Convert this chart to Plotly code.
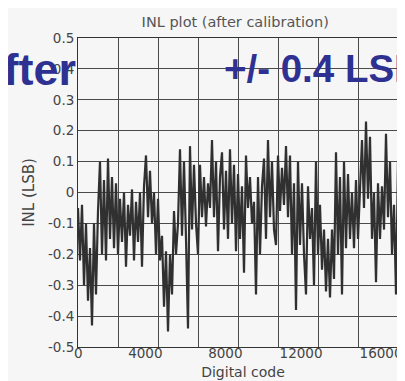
import numpy as np
import plotly.graph_objects as go

# INL values (LSB), one every 100 codes
inl_values = [
    -0.05, -0.22, -0.04, -0.30, -0.10, -0.35, -0.18, -0.43, -0.10, -0.33,
    -0.06, 0.10, -0.20, 0.04, -0.22, 0.11, -0.15, 0.05, -0.18, 0.03,
    -0.20, -0.02, -0.16, 0.00, -0.24, -0.04, -0.14, 0.01, -0.22, -0.03,
    -0.16, 0.00, -0.24, 0.02, 0.12, -0.08, 0.07, -0.10, 0.00, -0.20,
    -0.02, -0.22, -0.14, -0.37, -0.19, -0.45, -0.20, -0.33, -0.06, -0.20,
    -0.10, 0.14, -0.14, 0.10, -0.15, -0.44, 0.15, -0.12, 0.09, -0.10,
    -0.20, 0.09, -0.08, 0.05, -0.11, 0.03, -0.05, 0.17, -0.08, 0.10,
    -0.19, 0.05, 0.13, -0.12, 0.07, -0.15, 0.14, -0.10, 0.09, -0.19,
    0.06, -0.15, 0.02, -0.26, 0.12, -0.05, 0.05, -0.10, -0.03, -0.33,
    0.05, -0.20, 0.02, 0.11, -0.15, 0.17, -0.08, 0.10, -0.12, -0.17,
    0.12, -0.06, 0.08, -0.04, 0.15, -0.08, 0.12, -0.20, 0.03, -0.38,
    0.10, -0.17, 0.03, -0.20, -0.33, 0.02, -0.15, -0.05, -0.30, 0.10,
    -0.20, -0.04, -0.25, -0.12, -0.32, -0.15, -0.34, -0.12, -0.28, 0.13,
    -0.20, 0.05, -0.33, 0.10, -0.18, 0.06, -0.15, 0.00, -0.18, 0.04,
    -0.15, 0.02, 0.17, -0.05, 0.23, -0.02, 0.18, -0.15, 0.00, -0.29,
    0.03, -0.15, 0.02, -0.12, 0.19, -0.08, 0.10, -0.20, -0.04, -0.33,
    0.10, -0.15, 0.07, -0.08, 0.02,
]
code_step = 100
digital_codes = [i * code_step for i in range(len(inl_values))]

x_tick_vals = [0, 4000, 8000, 12000, 16000]
x_tick_text = ["0", "4000", "8000", "12000", "16000"]
y_tick_vals = [-0.5, -0.4, -0.3, -0.2, -0.1, 0.0, 0.1, 0.2, 0.3, 0.4, 0.5]
y_tick_text = ["-0.5", "-0.4", "-0.3", "-0.2", "-0.1", "0", "0.1", "0.2", "0.3", "0.4", "0.5"]

title_text = "INL plot (after calibration)"
x_title = "Digital code"
y_title = "INL (LSB)"
label_left = "After"
label_right = "+/- 0.4 LSB"

FONT = "DejaVu Sans, sans-serif"
BOLD = "Liberation Sans, Arial, sans-serif"
GRID = "#4a4a4a"
BG = "#f6f6f6"
TXT = "#444"

fig = go.Figure()
fig.add_trace(go.Scatter(
    x=digital_codes, y=inl_values, mode="lines",
    line=dict(color="#303030", width=2.2),
    hoverinfo="skip", showlegend=False,
))

fig.update_layout(
    width=405, height=381, autosize=False,
    margin=dict(l=70, r=5, t=30, b=42),
    paper_bgcolor=BG, plot_bgcolor=BG,
    font=dict(family=FONT, size=13.5, color=TXT),
    title=dict(text=title_text, x=0.561, xanchor="center", y=0.963, yanchor="middle",
               font=dict(family=FONT, size=14.5, color="#555")),
    showlegend=False,
)
fig.update_xaxes(
    range=[0, 16500], tickmode="array", tickvals=x_tick_vals, ticktext=x_tick_text,
    showgrid=True, gridcolor=GRID, gridwidth=1,
    minor=dict(dtick=2000, tick0=0, showgrid=True, gridcolor=GRID, gridwidth=1),
    zeroline=False, showline=True, linecolor="#333", linewidth=1, mirror=True,
    ticks="", ticklabelposition="outside left", ticklabelshift=5,
    ticklabelstandoff=-6,
    tickfont=dict(family=FONT, size=13.5, color=TXT),
    title=dict(text=x_title, standoff=6, font=dict(family=FONT, size=14, color=TXT)),
)
fig.update_yaxes(
    range=[-0.5, 0.5], tickmode="array", tickvals=y_tick_vals, ticktext=y_tick_text,
    showgrid=True, gridcolor=GRID, gridwidth=1,
    zeroline=False, showline=True, linecolor="#333", linewidth=1, mirror=True,
    ticks="",
    tickfont=dict(family=FONT, size=13.5, color=TXT),
    title=dict(text=y_title, standoff=9, font=dict(family=FONT, size=15, color=TXT)),
)

fig.add_annotation(text=label_left, xref="paper", yref="paper", x=0.0, y=0.899,
                   xanchor="right", yanchor="middle", showarrow=False,
                   font=dict(family=BOLD, size=45, color="#2e3192", weight="bold"))
fig.add_annotation(text=label_right, xref="paper", yref="paper", x=0.437, y=0.902,
                   xanchor="left", yanchor="middle", showarrow=False,
                   font=dict(family=BOLD, size=38.5, color="#2e3192", weight="bold"))

fig.write_html("out.html")
